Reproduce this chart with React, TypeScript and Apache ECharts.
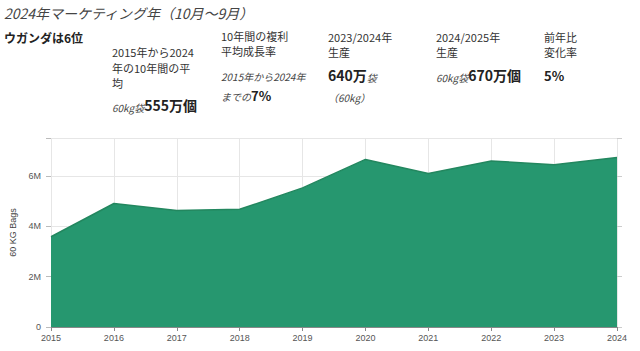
import React, { useEffect, useRef } from "react";
import * as echarts from "echarts";

const years = ["2015", "2016", "2017", "2018", "2019", "2020", "2021", "2022", "2023", "2024"];
const production = [3580000, 4900000, 4620000, 4670000, 5520000, 6650000, 6090000, 6590000, 6440000, 6730000];
const yTickLabels: Record<number, string> = { 0: "0", 2000000: "2M", 4000000: "4M", 6000000: "6M" };

const JP = '"Noto Sans CJK JP", "Noto Sans", sans-serif';
const TXT = "#333";

function txt(x: number, y: number, text: string, style: any = {}) {
  return {
    type: "text",
    x,
    y,
    style: {
      text,
      fontFamily: JP,
      fontSize: 11,
      fill: TXT,
      verticalAlign: "middle",
      ...style,
    },
  };
}

function rich(x: number, y: number, text: string, richStyles: any) {
  return {
    type: "text",
    x,
    y,
    style: {
      text,
      fontFamily: JP,
      verticalAlign: "middle",
      fill: TXT,
      rich: richStyles,
    },
  };
}

const richDef = {
  i: { fontStyle: "italic", fontSize: 10, fill: "#444", fontFamily: JP, verticalAlign: "bottom" },
  b: { fontWeight: "bold", fontSize: 14, fill: "#222", fontFamily: JP, verticalAlign: "bottom" },
  bs: { fontWeight: "bold", fontSize: 13, fill: "#222", fontFamily: JP, verticalAlign: "bottom" },
};

export default function App() {
  const ref = useRef<HTMLDivElement>(null);
  useEffect(() => {
    document.body.style.margin = "0";
    const chart = echarts.init(ref.current!, null, { renderer: "svg" });
    chart.setOption({
      animation: false,
      backgroundColor: "#fff",
      grid: { left: 51, right: 23, top: 138, bottom: 24 },
      xAxis: {
        type: "category",
        data: years,
        boundaryGap: false,
        axisLine: { show: true, lineStyle: { color: "#888" } },
        axisTick: { show: true, length: 4, alignWithLabel: true, lineStyle: { color: "#888" } },
        axisLabel: { color: "#555", fontSize: 9, fontFamily: "Liberation Sans, Arial, sans-serif", margin: 6 },
        splitLine: { show: true, lineStyle: { color: "#e6e6e6" } },
      },
      yAxis: [
        {
          type: "value",
          min: 0,
          max: 7500000,
          interval: 2000000,
          name: "60 KG Bags",
          nameLocation: "middle",
          nameGap: 34,
          nameTextStyle: { color: "#444", fontSize: 9, fontFamily: "Liberation Sans, Arial, sans-serif" },
          axisLine: { show: false },
          axisTick: { show: true, length: 5, lineStyle: { color: "#bbb" } },
          axisLabel: {
            color: "#555",
            fontSize: 9,
            fontFamily: "Liberation Sans, Arial, sans-serif",
            margin: 10,
            formatter: (v: number) => yTickLabels[v] ?? "",
          },
          splitLine: { show: true, lineStyle: { color: "#e6e6e6" } },
        },
        {
          type: "value",
          position: "right",
          min: 0,
          max: 7500000,
          interval: 2000000,
          axisLine: { show: false },
          axisTick: { show: true, length: 5, lineStyle: { color: "#ccc" } },
          axisLabel: { show: false },
          splitLine: { show: false },
        },
      ],
      series: [
        {
          type: "line",
          data: production,
          yAxisIndex: 0,
          symbol: "none",
          lineStyle: { color: "#23875f", width: 1.5 },
          areaStyle: { color: "#26976f", opacity: 1 },
        },
      ],
      graphic: [
        txt(4, 13, "2024年マーケティング年（10月～9月）", { fontStyle: "italic", fontSize: 14, fill: "#444" }),
        txt(4, 37, "ウガンダは6位", { fontWeight: "bold", fontSize: 12, fill: "#222" }),
        txt(112, 52, "2015年から2024"),
        txt(112, 68, "年の10年間の平"),
        txt(112, 83, "均"),
        rich(112, 105, "{i|60kg袋}{b|555万個}", richDef),
        txt(221, 36, "10年間の複利"),
        txt(221, 51, "平均成長率"),
        txt(221, 76, "2015年から2024年", { fontStyle: "italic", fontSize: 10, fill: "#444" }),
        rich(221, 95, "{i|までの}{bs|7%}", richDef),
        txt(328, 37, "2023/2024年"),
        txt(328, 52, "生産"),
        rich(328, 75, "{b|640万}{i|袋}", richDef),
        txt(328, 97, "（60kg）", { fontStyle: "italic", fontSize: 10, fill: "#444" }),
        txt(436, 37, "2024/2025年"),
        txt(436, 52, "生産"),
        rich(436, 75, "{i|60kg袋}{b|670万個}", richDef),
        txt(544, 37, "前年比"),
        txt(544, 52, "変化率"),
        rich(544, 75, "{bs|5%}", richDef),
      ],
    });
    return () => chart.dispose();
  }, []);
  return <div ref={ref} style={{ width: 640, height: 351, position: "absolute", left: 0, top: 0 }} />;
}
